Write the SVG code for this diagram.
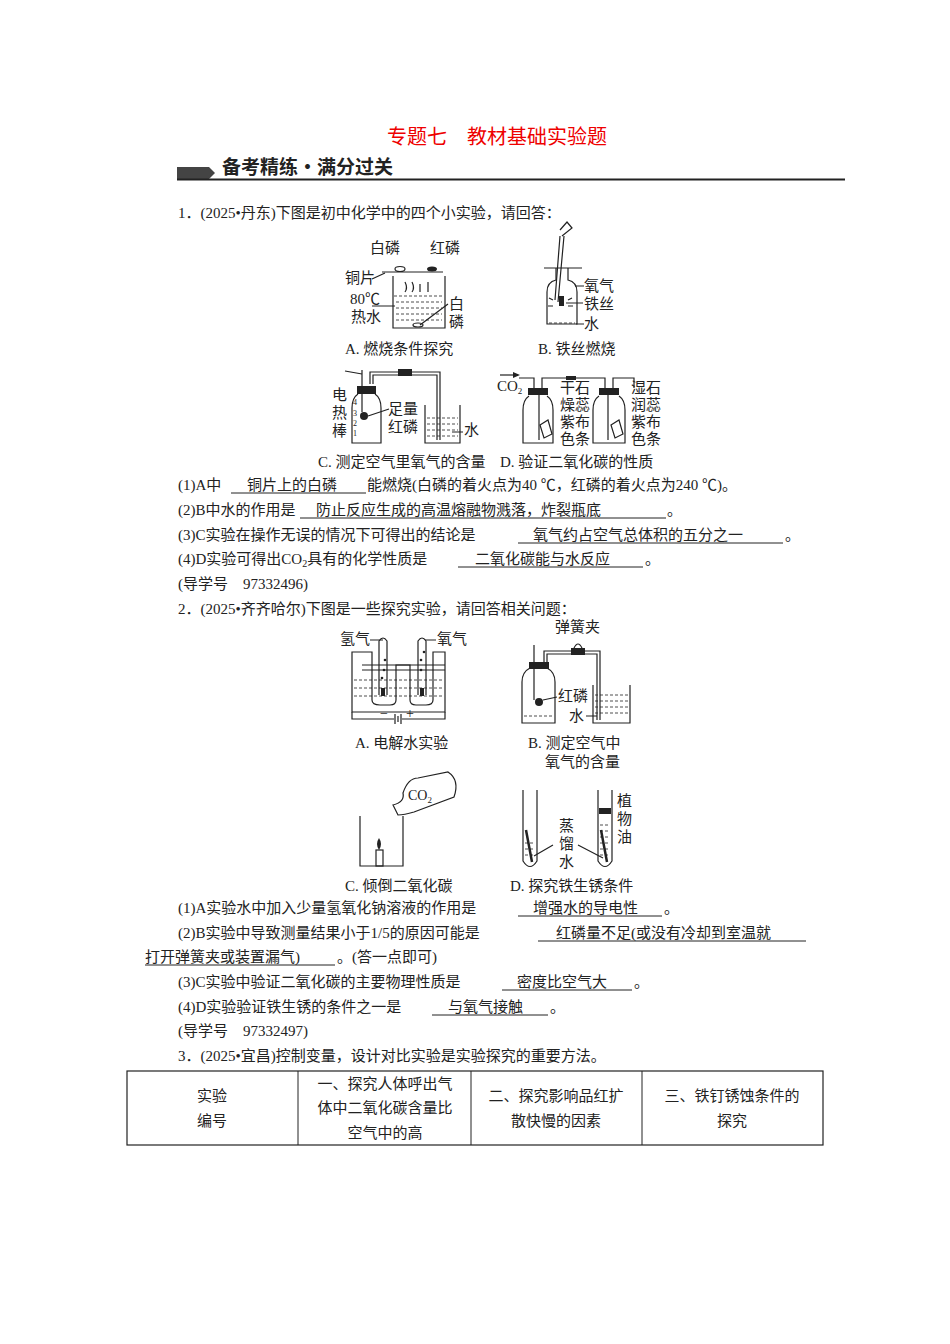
<svg xmlns="http://www.w3.org/2000/svg" width="950" height="1344" viewBox="0 0 950 1344">
<style>
text{font-family:"Liberation Serif","Noto Sans CJK SC",serif;font-size:15px;fill:#222}
.s{font-size:14px}
.u{stroke:#222;stroke-width:1}
.ln{fill:none;stroke:#222;stroke-width:1.2}
.w{fill:none;stroke:#222;stroke-width:0.8;stroke-dasharray:3 2}
.c{text-anchor:middle}
</style>
<rect width="950" height="1344" fill="#fff"/>
<text x="497" y="144" class="c" style="fill:#e00;font-size:20px;font-family:'Noto Sans CJK SC',sans-serif">专题七　教材基础实验题</text>
<rect x="177" y="167" width="32" height="12" fill="#444"/>
<polygon points="209,167 215,173 209,179" fill="#444"/>
<line x1="177" y1="179.5" x2="845" y2="179.5" stroke="#222" stroke-width="2"/>
<text x="222" y="174" style="font-size:19px;font-weight:bold;font-family:'Noto Sans CJK SC',sans-serif">备考精练·满分过关</text>

<text x="178" y="218">1．(2025•丹东)下图是初中化学中的四个小实验，请回答：</text>

<g id="figA1">
<line x1="382" y1="272" x2="443" y2="272" class="ln" stroke-width="2"/>
<path d="M393,276 V328 H445 V276" class="ln"/>
<path d="M394,296 H444 M396,302 H442 M396,308 H442 M396,314 H442 M396,320 H442" class="w"/>
<ellipse cx="400" cy="269" rx="5" ry="2.5" class="ln"/>
<ellipse cx="432" cy="269" rx="5" ry="2.5" fill="#222"/>
<ellipse cx="418" cy="325" rx="5" ry="2" class="ln"/>
<path d="M405,282 q3,6 0,10 M412,282 q3,6 0,10 M420,284 v8 M428,282 v10" class="ln" stroke-width="0.8"/>
<text x="370" y="253">白磷</text><text x="430" y="253">红磷</text>
<text x="345" y="283">铜片</text><text x="350" y="304">80℃</text><text x="351" y="322">热水</text>
<text x="449" y="309">白</text><text x="449" y="327">磷</text>
<path d="M372,279 L385,273 M372,306 L395,306 M448,304 L420,325" class="ln" stroke-width="0.8"/>
<text x="345" y="354">A. 燃烧条件探究</text>
</g>
<g id="figB1">
<line x1="544" y1="268" x2="582" y2="268" class="ln" stroke-width="1.5"/>
<path d="M556,268 V280 Q547,282 547,292 V324 H577 V292 Q577,282 568,280 V268" class="ln"/>
<path d="M549,323 H575" class="w"/>
<path d="M555,300 L560,236 M558,302 L564,236 M562,236 L572,228 L567,222 L560,230" class="ln"/>
<rect x="559" y="296" width="5" height="10" fill="#222"/>
<path d="M553,300 l-4,-2 M553,306 l-5,0 M568,300 l4,-2 M568,306 l5,0" class="ln" stroke-width="0.7"/>
<text x="584" y="291">氧气</text><text x="584" y="309">铁丝</text><text x="584" y="329">水</text>
<path d="M575,286 H584 M566,303 H583 M576,324 H584" class="ln" stroke-width="0.8"/>
<text x="538" y="354">B. 铁丝燃烧</text>
</g>
<g id="figC1">
<path d="M358,394 Q352,398 352,408 V443 H381 V408 Q381,398 375,394" class="ln"/>
<rect x="357" y="386" width="19" height="8" fill="#222"/>
<path d="M362,370 V412 M370,384 V372 H440 V440 M373,384 V375 H437 V440" class="ln"/>
<path d="M345,371 L362,374" class="ln"/>
<rect x="398" y="369" width="14" height="7" fill="#222"/>
<circle cx="364" cy="416" r="4" fill="#222"/>
<path d="M425,405 V443 H460 V405" class="ln"/>
<path d="M427,418 H458 M427,424 H458 M427,430 H458 M427,436 H458" class="w"/>
<text x="353" y="405" style="font-size:8px">4</text><text x="353" y="416" style="font-size:8px">3</text><text x="353" y="426" style="font-size:8px">2</text><text x="353" y="436" style="font-size:8px">1</text>
<text x="332" y="400">电</text><text x="332" y="418">热</text><text x="332" y="436">棒</text>
<text x="388" y="414">足量</text><text x="388" y="432">红磷</text><text x="464" y="435">水</text>
<path d="M368,416 L389,409 M452,432 H463" class="ln" stroke-width="0.8"/>
<text x="318" y="467">C. 测定空气里氧气的含量</text>
</g>
<g id="figD1">
<path d="M500,375 H518" class="ln"/><polygon points="520,375 513,372 513,378" fill="#222"/>
<text x="497" y="391">CO<tspan font-size="9" dy="3">2</tspan></text>
<path d="M529,396 Q523,400 523,410 V443 H553 V410 Q553,400 547,396 M599,396 Q593,400 593,410 V443 H625 V410 Q625,400 619,396" class="ln"/>
<rect x="528" y="388" width="20" height="7" fill="#222"/><rect x="599" y="388" width="20" height="7" fill="#222"/>
<path d="M519,378 H534 V388 M542,388 V378 H605 V388 M613,388 V378 H634 V388 M539,395 V440 M608,395 V440" class="ln"/>
<rect x="566" y="376" width="10" height="4" fill="#222"/>
<path d="M540,425 l8,-5 l4,14 l-8,4z M611,425 l8,-5 l4,14 l-8,4z" class="ln"/>
<text x="560" y="393">干石</text><text x="560" y="410">燥蕊</text><text x="560" y="427">紫布</text><text x="560" y="444">色条</text>
<text x="631" y="393">湿石</text><text x="631" y="410">润蕊</text><text x="631" y="427">紫布</text><text x="631" y="444">色条</text>
<text x="500" y="467">D. 验证二氧化碳的性质</text>
</g>

<text x="178" y="490">(1)A中<tspan x="247">铜片上的白磷</tspan><tspan x="367">能燃烧(白磷的着火点为40 ℃，红磷的着火点为240 ℃)。</tspan></text>
<line x1="231" y1="493" x2="366" y2="493" class="u"/>
<text x="178" y="515">(2)B中水的作用是<tspan x="316">防止反应生成的高温熔融物溅落，炸裂瓶底</tspan><tspan x="667">。</tspan></text>
<line x1="300" y1="518" x2="666" y2="518" class="u"/>
<text x="178" y="540">(3)C实验在操作无误的情况下可得出的结论是<tspan x="533">氧气约占空气总体积的五分之一</tspan><tspan x="785">。</tspan></text>
<line x1="518" y1="543" x2="783" y2="543" class="u"/>
<text x="178" y="564">(4)D实验可得出CO<tspan font-size="10" dy="3">2</tspan><tspan dy="-3">具有的化学性质是</tspan><tspan x="475">二氧化碳能与水反应</tspan><tspan x="645">。</tspan></text>
<line x1="458" y1="567" x2="643" y2="567" class="u"/>
<text x="178" y="589">(导学号　97332496)</text>
<text x="178" y="614">2．(2025•齐齐哈尔)下图是一些探究实验，请回答相关问题：</text>

<g id="figA2">
<path d="M352,712 V652 H372 V700 Q372,705 380,705 H390 Q396,705 396,700 V665 H410 V700 Q410,705 416,705 H426 Q433,705 433,700 V652 H445 V712 Z" class="ln"/>
<path d="M362,665 H445 M362,670 H445" class="ln" stroke-width="0.8"/>
<path d="M354,680 H443 M354,688 H443 M354,696 H443" class="w"/>
<path d="M379,695 V641 Q383,635 387,641 V695 M418,695 V641 Q422,635 426,641 V695" class="ln"/>
<rect x="381" y="688" width="4" height="8" fill="#222"/><rect x="420" y="688" width="4" height="8" fill="#222"/>
<circle cx="384" cy="670" r="1.3" fill="#222"/><circle cx="382" cy="678" r="1.3" fill="#222"/><circle cx="385" cy="660" r="1.3" fill="#222"/>
<circle cx="421" cy="660" r="1.3" fill="#222"/><circle cx="424" cy="652" r="1.3" fill="#222"/><circle cx="421" cy="670" r="1.3" fill="#222"/>
<path d="M352,712 V719 H394 M402,719 H445 V712" class="ln"/>
<path d="M395,714 V724 M398,716 V722 M401,714 V724" class="ln"/>
<text x="380" y="718" class="s">−</text><text x="406" y="718" class="s">+</text>
<text x="340" y="644">氢气</text><text x="437" y="644">氧气</text>
<path d="M370,640 H383 M425,640 H436" class="ln" stroke-width="0.8"/>
<text x="355" y="748">A. 电解水实验</text>
</g>
<g id="figB2">
<path d="M530,668 Q522,672 522,682 V723 H555 V682 Q555,672 547,668" class="ln"/>
<rect x="529" y="662" width="20" height="7" fill="#222"/>
<path d="M534,645 V700 M544,662 V651 H600 V720 M547,662 V654 H597 V720" class="ln"/>
<rect x="571" y="648" width="14" height="7" fill="#222"/>
<path d="M574,648 q4,-8 8,0" class="ln"/>
<circle cx="539" cy="702" r="4" fill="#222"/>
<path d="M524,716 H553" class="w"/>
<path d="M593,685 V723 H630 V685" class="ln"/>
<path d="M595,695 H628 M595,701 H628 M595,707 H628 M595,713 H628" class="w"/>
<text x="555" y="632">弹簧夹</text>
<text x="558" y="701">红磷</text><text x="569" y="721">水</text>
<path d="M543,700 L557,697 M586,716 L597,716" class="ln" stroke-width="0.8"/>
<text x="528" y="748">B. 测定空气中</text><text x="545" y="767">氧气的含量</text>
</g>
<g id="figC2">
<path d="M360,816 V866 H403 V816" class="ln"/>
<rect x="376" y="850" width="7" height="16" class="ln"/>
<path d="M379,850 q-4,-6 0,-12 q4,6 0,12" fill="#222"/>
<path d="M398,815 l-5,-10 q12,-3 10,-12 q5,-15 15,-15 l30,-6 q12,8 6,25 l-40,15 q-10,3 -16,3z" class="ln"/>
<text x="408" y="800" class="s">CO<tspan font-size="9" dy="3">2</tspan></text>
<text x="345" y="891">C. 倾倒二氧化碳</text>
</g>
<g id="figD2">
<path d="M523,790 V861 Q530,872 537,861 V790 M598,790 V861 Q605,872 612,861 V790" class="ln"/>
<path d="M525,843 H535 M525,849 H535 M525,855 H535 M600,825 H610 M600,831 H610 M600,837 H610 M600,843 H610 M600,849 H610 M600,855 H610" class="w"/>
<rect x="599" y="808" width="12" height="6" fill="#222"/>
<path d="M526,830 L532,862 M601,830 L607,862" stroke="#222" stroke-width="2.5"/>
<text x="559" y="831">蒸</text><text x="559" y="849">馏</text><text x="559" y="867">水</text>
<text x="617" y="806">植</text><text x="617" y="824">物</text><text x="617" y="842">油</text>
<path d="M553,845 L534,856 M578,845 L603,858" class="ln" stroke-width="0.8"/>
<text x="510" y="891">D. 探究铁生锈条件</text>
</g>

<text x="178" y="913">(1)A实验水中加入少量氢氧化钠溶液的作用是<tspan x="533">增强水的导电性</tspan><tspan x="664">。</tspan></text>
<line x1="518" y1="916" x2="662" y2="916" class="u"/>
<text x="178" y="938">(2)B实验中导致测量结果小于1/5的原因可能是<tspan x="556">红磷量不足(或没有冷却到室温就</tspan></text>
<line x1="538" y1="941" x2="806" y2="941" class="u"/>
<text x="145" y="962">打开弹簧夹或装置漏气)<tspan x="337">。(答一点即可)</tspan></text>
<line x1="145" y1="965" x2="335" y2="965" class="u"/>
<text x="178" y="987">(3)C实验中验证二氧化碳的主要物理性质是<tspan x="517">密度比空气大</tspan><tspan x="634">。</tspan></text>
<line x1="502" y1="990" x2="632" y2="990" class="u"/>
<text x="178" y="1012">(4)D实验验证铁生锈的条件之一是<tspan x="448">与氧气接触</tspan><tspan x="550">。</tspan></text>
<line x1="432" y1="1015" x2="548" y2="1015" class="u"/>
<text x="178" y="1036">(导学号　97332497)</text>
<text x="178" y="1061">3．(2025•宜昌)控制变量，设计对比实验是实验探究的重要方法。</text>

<g id="table">
<rect x="127" y="1071" width="696" height="74" fill="none" stroke="#222" stroke-width="1.2"/>
<path d="M298,1071 V1145 M471,1071 V1145 M642,1071 V1145" stroke="#222" stroke-width="1"/>
<text x="212" y="1101" class="c">实验</text><text x="212" y="1126" class="c">编号</text>
<text x="385" y="1089" class="c">一、探究人体呼出气</text><text x="385" y="1113" class="c">体中二氧化碳含量比</text><text x="385" y="1138" class="c">空气中的高</text>
<text x="556" y="1101" class="c">二、探究影响品红扩</text><text x="556" y="1126" class="c">散快慢的因素</text>
<text x="732" y="1101" class="c">三、铁钉锈蚀条件的</text><text x="732" y="1126" class="c">探究</text>
</g>
</svg>
